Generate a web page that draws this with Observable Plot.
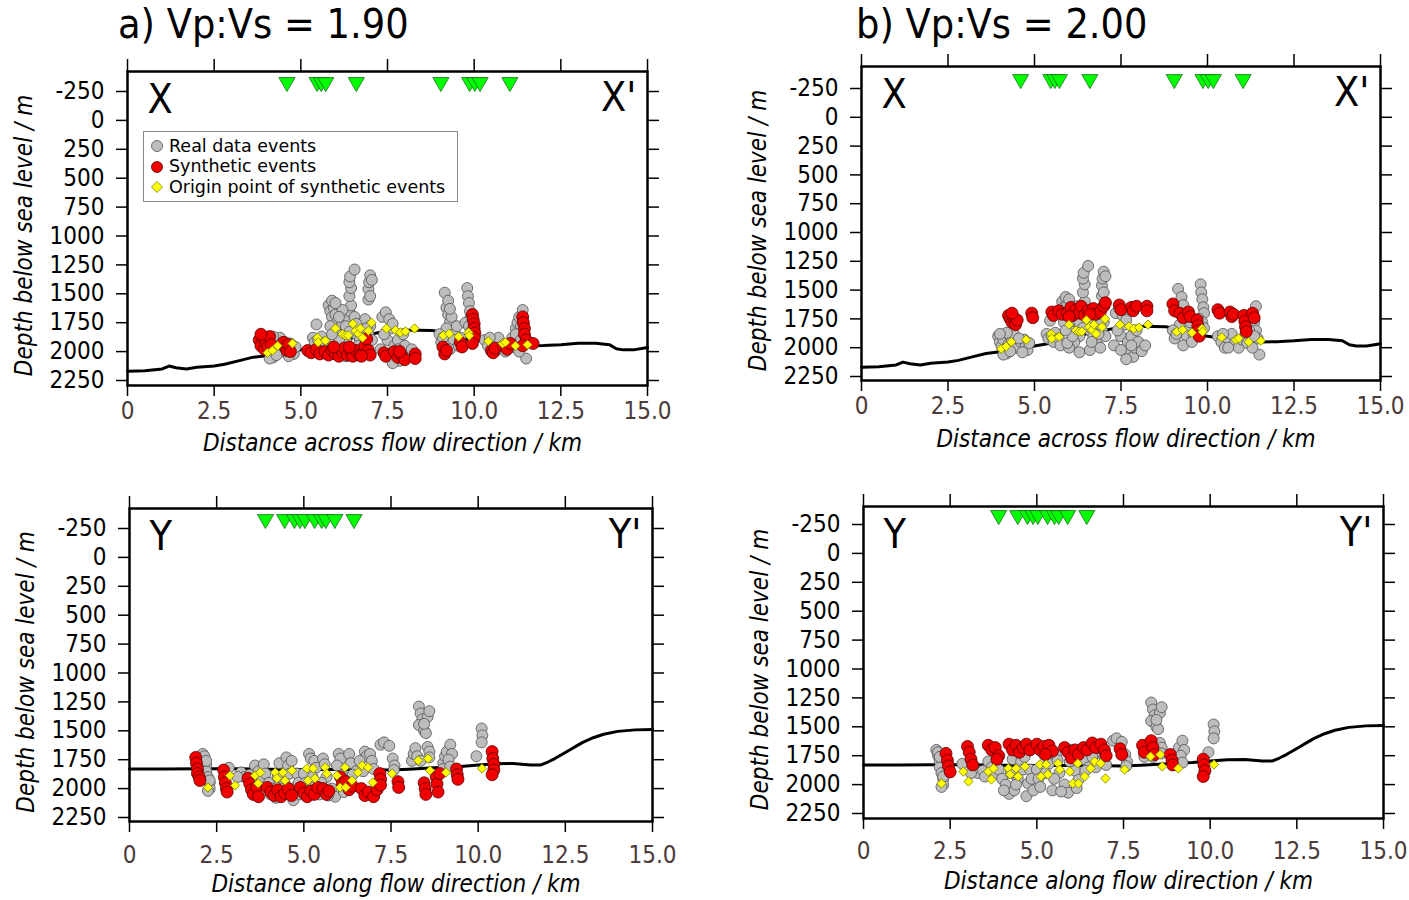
<!DOCTYPE html>
<html><head><meta charset="utf-8">
<script src="https://cdn.jsdelivr.net/npm/d3@7"></script>
<script src="https://cdn.jsdelivr.net/npm/@observablehq/plot@0.6"></script>
<style>
body{margin:0;background:#fff;width:1409px;height:900px;position:relative;overflow:hidden;font-family:"DejaVu Sans Condensed","DejaVu Sans",sans-serif;}
.title{position:absolute;font-size:41px;color:#000;white-space:nowrap;line-height:1;}
.legend{position:absolute;left:143px;top:131px;width:313px;height:69px;border:1px solid #8a8a8a;background:#fff;font-family:"DejaVu Sans",sans-serif;font-size:17.5px;}
.legend .row{position:absolute;left:25px;white-space:nowrap;line-height:17px;height:17px;}
.legend svg{position:absolute;left:5px;}
</style></head><body>
<script>
// ---------- tick labels ----------
const xTicks = [0, 2.5, 5, 7.5, 10, 12.5, 15];
const yTicks = [-250, 0, 250, 500, 750, 1000, 1250, 1500, 1750, 2000, 2250];

// ---------- stations (km) ----------
const stationsAcross = [4.6, 5.47, 5.59, 5.72, 6.6, 9.04, 9.87, 10.02, 10.17, 11.03];
const stationsAlong = [3.9, 4.45, 4.73, 4.89, 5.03, 5.31, 5.51, 5.63, 5.89, 6.44];

// ---------- bed profile [km, depth m] ----------
const bedAcross = [[0,2170],[0.5,2165],[1.0,2150],[1.2,2125],[1.4,2140],[1.7,2150],[2.0,2135],[2.5,2125],[2.8,2110],[3.2,2080],[3.6,2050],[4.0,2035],[4.5,2010],[5.0,1985],[5.5,1960],[6.0,1925],[6.5,1880],[7.0,1850],[7.3,1832],[7.6,1820],[8.0,1815],[8.4,1815],[8.8,1818],[9.0,1830],[9.2,1862],[9.6,1885],[10.0,1900],[10.5,1920],[11.0,1935],[11.5,1950],[12.0,1948],[12.5,1940],[13.0,1928],[13.5,1928],[13.9,1940],[14.1,1975],[14.3,1985],[14.6,1985],[15.0,1965]];
const bedAlong = [[0,1830],[1,1830],[2,1828],[3,1828],[4,1832],[5,1835],[6,1835],[7,1838],[7.5,1840],[8,1832],[8.5,1825],[9,1815],[9.5,1808],[10,1795],[10.5,1785],[11,1782],[11.5,1795],[11.8,1795],[12.0,1770],[12.2,1740],[12.4,1705],[12.6,1670],[12.8,1635],[13.0,1600],[13.3,1560],[13.6,1530],[14.0,1505],[14.5,1492],[15.0,1488]];

// ---------- real data events [km, depth m] ----------
const realAcross = [[3.95,1900],[4.0,1950],[4.05,1990],[4.1,1930],[4.15,2010],[4.2,2050],[4.25,1970],[4.3,1900],[4.35,1940],[4.4,1880],[4.45,1960],[4.5,2000],[4.6,1950],[4.7,1930],[4.75,1990],[4.8,2020],[4.85,1960],[4.2,1870],[4.1,2060],[4.0,1880],[4.3,2030],[4.55,1920],[4.65,2040],
[5.35,1880],[5.4,1920],[5.45,1765],[5.5,1900],[5.55,1950],[5.6,1870],[5.7,1920],[5.75,1980],
[5.8,1600],[5.85,1650],[5.9,1700],[5.95,1620],[6.0,1680],[6.05,1740],[5.85,1780],[6.1,1800],[6.2,1760],[6.25,1850],[6.3,1900],[6.35,1700],[6.4,1650],[6.45,1600],[6.4,1520],[6.45,1450],[6.4,1400],[6.42,1350],[6.55,1290],[6.5,1800],[6.6,1850],[6.7,1900],[6.75,1760],[6.8,1950],[6.85,1720],[6.9,2000],[6.95,1850],[7.0,1780],[7.05,1900],[6.15,1950],[6.0,2000],[6.3,2040],[6.6,2020],[6.95,1460],[6.97,1400],[7.0,1340],[7.05,1380],[6.95,1550],[7.0,1520],[5.95,1960],[6.55,1700],[6.2,1640],
[5.9,1560],[6.0,1580],[6.1,1700],[6.15,1860],[6.3,1780],[6.4,1830],[6.6,1760],[6.65,1950],[6.85,1880],[6.9,1800],[6.1,1900],[5.9,1850],
[7.35,1700],[7.45,1660],[7.55,1720],[7.5,1900],[7.6,1800],[7.7,1950],[7.75,2050],[7.8,1900],[7.85,2080],[7.9,2000],[7.95,1850],[8.0,1950],[8.1,2030],[8.2,1980],[7.4,1850],[7.65,1760],[7.3,1980],[7.5,2020],[7.65,2100],[7.8,1980],
[9.15,1490],[9.2,1620],[9.25,1680],[9.3,1750],[9.2,1800],[9.35,1700],[9.45,1850],[9.5,1780],[9.4,1900],[9.0,1850],[9.05,1920],[9.1,1880],[9.8,1450],[9.82,1520],[9.85,1580],[9.88,1650],[9.9,1700],[9.75,1750],[9.6,1880],[9.3,1980],[9.55,1950],[9.25,1560],[9.3,1630],[9.85,1780],[9.9,1830],
[10.3,1900],[10.4,1950],[10.5,2000],[10.6,1920],[10.7,1880],[10.8,1960],[10.9,2000],[11.0,1930],[11.1,1880],[11.2,1800],[11.25,1750],[11.3,1700],[11.35,1780],[11.4,1850],[11.45,1920],[11.5,2060],[11.15,1960],[11.3,2000],[10.45,1880],[10.6,2000],[11.2,1850],[11.35,1900],[11.4,1640]];

const realAlong = [[2.1,1700],[2.15,1750],[2.2,1800],[2.2,1850],[2.25,1900],[2.3,1950],[2.3,2000],[2.15,1720],[2.25,2020],[2.2,1760],[2.3,1930],
[2.85,1820],[3.2,1860],[3.3,1900],[3.45,1880],[3.6,1800],[3.7,1850],[3.8,1900],[3.85,1790],[3.1,1900],[3.5,1930],[3.9,1870],
[4.0,1950],[4.1,2000],[4.2,2080],[4.3,1780],[4.35,2050],[4.45,1950],[4.5,1730],[4.55,1800],[4.6,1870],[4.65,1760],[4.7,2100],[4.75,1990],[4.9,2050],[4.05,2050],[4.25,1900],[4.4,2000],[4.8,1870],[4.85,1950],
[5.0,1870],[5.05,1950],[5.15,1700],[5.2,1740],[5.3,1760],[5.35,1820],[5.45,2050],[5.55,1740],[5.6,1790],[5.65,1900],[5.8,2000],[5.9,2070],[6.0,1700],[6.05,1740],[6.1,1880],[6.2,1960],[6.3,1700],[6.35,1780],[6.5,1850],[5.1,2020],[5.25,1900],[5.5,1950],[5.7,2060],[5.95,1800],[6.15,2030],[6.4,1880],
[6.75,1680],[6.8,1720],[6.9,1700],[6.95,1760],[7.2,1620],[7.3,1600],[7.45,1630],[7.55,1740],[7.6,1800],[7.58,1840],[6.6,1760],[6.7,1850],[7.0,1830],
[8.1,1760],[8.15,1700],[8.2,1650],[8.3,1290],[8.35,1350],[8.4,1400],[8.3,1450],[8.45,1500],[8.55,1380],[8.6,1330],[8.5,1520],[8.55,1640],[8.6,1680],[8.6,1730],[8.25,1720],[8.35,1760],[8.45,1440],
[9.0,1780],[9.05,1720],[9.1,1680],[9.2,1620],[9.25,1700],[9.0,1830],[9.15,1750],[9.2,1810],
[9.95,1720],[10.1,1480],[10.12,1540],[10.1,1600]];

// ---------- origin points of synthetic events [km, depth m] ----------
const originAcross = [[4.04,2010],[4.18,1990],[4.33,1950],[4.76,1930],[5.48,1880],[5.5,1920],[5.71,1905],[6.0,1800],[6.2,1850],[6.29,1860],[6.37,1860],[6.5,1760],[6.58,1820],[6.66,1845],[6.72,1800],[6.78,1880],[6.95,1820],[7.04,1750],[7.47,1800],[7.73,1815],[7.87,1835],[8.02,1825],[8.28,1800],[9.11,1860],[9.28,1845],[9.55,1870],[9.84,1835],[9.86,1862],[10.41,1910],[10.82,1930],[10.9,1920],[11.19,1950],[11.54,1940]];
const originAlong = [[2.25,1990],[2.88,1887],[3.03,1973],[3.6,1887],[3.69,1955],[3.75,1860],[4.18,1860],[4.23,1912],[4.4,1860],[4.46,1930],[4.66,1843],[5.09,1826],[5.12,1930],[5.27,1826],[5.32,1912],[5.61,1817],[5.66,1870],[5.95,1887],[6.04,1990],[6.18,1817],[6.2,1990],[6.38,1930],[6.55,1860],[6.67,1800],[6.84,1817],[6.98,1947],[7.53,1870],[8.28,1757],[8.56,1740],[8.62,1843],[9.08,1860],[10.11,1826]];

// ---------- synthetic events [km, depth m] ----------
const synthAcross190 = [[3.8,1900],[3.85,1950],[3.9,1880],[3.95,1980],[4.0,1920],[4.05,1960],[4.1,1870],[4.15,1940],[3.85,1850],
[4.5,1920],[4.55,1960],[4.6,1990],[4.65,1940],[4.7,2000],
[5.2,1990],[5.3,2010],[5.45,1980],[5.55,2020],[5.7,2000],[5.8,2030],[5.9,1990],[6.0,2020],[6.1,2040],[6.2,2000],[6.25,1970],[6.35,2030],[6.45,2000],[6.5,2040],[6.6,1990],[6.7,2030],[6.8,2010],[6.85,1950],[6.9,1890],[6.95,1990],[7.0,2030],[6.75,2040],[6.4,1960],[5.95,1960],
[7.4,2010],[7.45,2040],[7.7,2000],[7.8,2050],[7.9,2030],[8.0,2070],[7.85,2000],[8.3,2020],[8.3,2060],
[9.1,1960],[9.15,2020],[9.2,1990],[9.6,1920],[9.65,1960],
[9.95,1680],[9.97,1720],[10.0,1760],[10.0,1800],[10.02,1840],[10.0,1880],[9.95,1930],
[10.5,1990],[10.55,2010],[10.6,1970],
[10.85,1950],[10.95,1980],[11.05,1930],
[11.4,1700],[11.42,1750],[11.45,1800],[11.45,1850],[11.5,1900],[11.4,1950],[11.7,1930]];
const synthAcross200 = [[4.25,1720],[4.3,1750],[4.35,1780],[4.4,1740],[4.45,1800],[4.5,1760],[4.35,1700],
[4.92,1700],[4.95,1740],
[5.5,1690],[5.55,1720],[5.7,1680],[5.8,1710],[5.95,1700],[6.05,1650],[6.1,1720],[6.2,1670],[6.3,1700],[6.35,1640],[6.45,1720],[6.55,1680],[6.7,1660],[6.75,1710],[6.9,1690],[7.0,1640],[7.05,1610],[6.6,1710],[6.0,1730],
[7.45,1630],[7.5,1670],[7.8,1650],[7.85,1680],[7.95,1640],[8.25,1640],[8.25,1680],
[9.0,1620],[9.05,1680],[9.2,1700],[9.3,1740],[9.45,1690],[9.5,1730],[9.7,1760],[9.72,1810],[9.74,1850],[9.76,1900],
[10.3,1670],[10.35,1700],[10.65,1690],[10.7,1730],[10.75,1710],[11.05,1720],[11.08,1770],[11.1,1820],[11.12,1860],[11.3,1700],[11.35,1740]];
const synthAlong190 = [[1.9,1730],[1.92,1780],[1.95,1830],[1.95,1870],[2.0,1900],[2.02,1930],
[2.7,1840],[2.72,1900],[2.75,1950],[2.78,2000],[2.8,2030],
[3.4,1910],[3.45,1960],[3.5,2010],[3.55,2050],[3.65,1990],[3.7,2070],
[3.95,1990],[4.05,2030],[4.15,2060],[4.25,2010],[4.35,2070],[4.45,2040],[4.55,2000],[4.65,2060],
[4.9,1990],[5.0,2040],[5.1,2070],[5.2,2020],[5.3,2050],[5.4,1990],
[5.55,2000],[5.65,2050],[5.72,2020],
[6.05,1900],[6.1,1960],[6.2,1940],[6.3,2010],[6.4,1980],
[6.65,2000],[6.75,2060],[6.85,2030],[7.0,2070],[7.1,2010],
[7.18,1870],[7.2,1920],[7.2,1970],
[7.7,1940],[7.72,1990],
[8.45,1950],[8.48,2000],[8.5,2050],[8.8,1900],[8.82,1960],[8.85,2030],[8.9,1870],
[9.38,1830],[9.4,1880],[9.42,1920],
[10.4,1680],[10.42,1740],[10.45,1790],[10.45,1840],[10.4,1880]];
const synthAlong200 = [[2.38,1730],[2.42,1790],[2.45,1840],[2.5,1890],
[3.0,1670],[3.05,1720],[3.1,1780],[3.15,1830],
[3.6,1660],[3.7,1700],[3.8,1680],[3.9,1750],[3.85,1780],
[4.2,1650],[4.3,1700],[4.4,1660],[4.5,1720],[4.6,1680],[4.7,1650],[4.8,1700],
[5.0,1650],[5.1,1700],[5.2,1670],[5.35,1660],[5.45,1710],[5.25,1740],
[5.8,1680],[5.9,1720],[6.0,1770],[6.1,1700],[6.2,1740],[6.35,1680],[6.45,1700],
[6.6,1640],[6.7,1680],[6.85,1650],[6.95,1700],[7.0,1750],
[7.4,1690],[7.45,1740],
[8.05,1660],[8.1,1720],[8.3,1620],[8.35,1680],[8.4,1740],
[8.85,1740],[8.9,1790],[8.92,1830],
[9.8,1780],[9.82,1830],[9.85,1880],[9.8,1930]];

const titles = ["a) Vp:Vs = 1.90", "b) Vp:Vs = 2.00"];
const xTitles = ["Distance across flow direction / km", "Distance along flow direction / km"];
const yTitle = "Depth below sea level / m";

// ---------- drawing ----------
const FONT = '"DejaVu Sans Condensed","DejaVu Sans",sans-serif';
const FS = 24;
const pts = a => a.map(([x, y]) => ({x, y}));
const xFmt = d => d === 0 ? "0" : d.toFixed(1);

function panel(cfg) {
  const mL = 140, mR = 50, mT = 60, mB = 95;
  const fw = cfg.x15 - cfg.x0, fh = cfg.bottom - cfg.top;
  const mpp = 2500 / (cfg.y2250 - cfg.yNeg);
  const yDom = [-250 - (cfg.yNeg - cfg.top) * mpp, 2250 + (cfg.bottom - cfg.y2250) * mpp];
  const plot = Plot.plot({
    width: fw + mL + mR, height: fh + mT + mB,
    marginLeft: mL, marginRight: mR, marginTop: mT, marginBottom: mB,
    style: {background: "none", fontFamily: FONT, fontSize: FS + "px", overflow: "visible", color: "#000"},
    x: {domain: [0, 15]},
    y: {domain: yDom, reverse: true},
    marks: [
      Plot.line(pts(cfg.bed), {x: "x", y: "y", stroke: "#000", strokeWidth: 3}),
      Plot.dot(pts(cfg.real), {x: "x", y: "y", r: 5.5, fill: "#bdbdbd", stroke: "#505050", strokeWidth: 0.8}),
      Plot.dot(pts(cfg.synth), {x: "x", y: "y", r: 6, fill: "#f00000", stroke: "#5a0000", strokeWidth: 0.8}),
      Plot.dot(pts(cfg.origin), {x: "x", y: "y", r: 4.2, symbol: "diamond2", fill: "#ffff00", stroke: "#7a7a00", strokeWidth: 0.8}),
      Plot.dot(cfg.stations, {x: d => d, y: () => -330, r: 6, symbol: "triangle", rotate: 180, fill: "#00ff00", stroke: "#1d6b1d", strokeWidth: 0.8}),
      Plot.frame({stroke: "#000", strokeWidth: 2.5}),
      Plot.axisY(yTicks, {anchor: "left", tickSize: 11, tickPadding: 12, tickFormat: d => String(d), label: null, fontSize: FS, fill: "#000", stroke: "#000", strokeWidth: 1.5}),
      Plot.axisY(yTicks, {anchor: "right", tickSize: 11, tickFormat: () => "", label: null, stroke: "#000", strokeWidth: 1.5}),
      Plot.axisX(xTicks, {anchor: "bottom", tickSize: 11, tickPadding: cfg.xPad, tickFormat: xFmt, label: null, fontSize: FS, fill: "#4b3b3b", stroke: "#000", strokeWidth: 1.5}),
      Plot.axisX(xTicks, {anchor: "top", tickSize: 13, tickFormat: () => "", label: null, stroke: "#000", strokeWidth: 1.5}),
      Plot.text([cfg.xTitle], {frameAnchor: "bottom", dx: 5, dy: cfg.xTitleDy, fontStyle: "italic", fontSize: FS, fill: "#000"}),
      Plot.text([yTitle], {frameAnchor: "left", rotate: -90, dx: -103, dy: 7, textAnchor: "middle", fontStyle: "italic", fontSize: FS, fill: "#000"}),
      Plot.text([cfg.left], {frameAnchor: "top-left", dx: 20, dy: 12, fontSize: 41, lineAnchor: "top", textAnchor: "start", fill: "#000"}),
      Plot.text([cfg.right], {frameAnchor: "top-right", dx: -11, dy: 10, fontSize: 41, lineAnchor: "top", textAnchor: "end", fill: "#000"})
    ]
  });
  plot.style.position = "absolute";
  plot.style.left = (cfg.x0 - mL) + "px";
  plot.style.top = (cfg.top - mT) + "px";
  document.body.appendChild(plot);
}

panel({x0: 127, x15: 647, yNeg: 91, y2250: 380, top: 71, bottom: 385, xPad: 5, xTitleDy: 65,
  bed: bedAcross, real: realAcross, synth: synthAcross190, origin: originAcross, stations: stationsAcross,
  xTitle: xTitles[0], left: "X", right: "X'"});
panel({x0: 861, x15: 1380, yNeg: 88, y2250: 376, top: 66, bottom: 380, xPad: 5, xTitleDy: 66,
  bed: bedAcross, real: realAcross, synth: synthAcross200, origin: originAcross, stations: stationsAcross,
  xTitle: xTitles[0], left: "X", right: "X'"});
panel({x0: 129, x15: 652, yNeg: 528, y2250: 817, top: 508, bottom: 821, xPad: 13, xTitleDy: 70,
  bed: bedAlong, real: realAlong, synth: synthAlong190, origin: originAlong, stations: stationsAlong,
  xTitle: xTitles[1], left: "Y", right: "Y'"});
panel({x0: 863, x15: 1383, yNeg: 524, y2250: 813, top: 506, bottom: 818, xPad: 12, xTitleDy: 70,
  bed: bedAlong, real: realAlong, synth: synthAlong200, origin: originAlong, stations: stationsAlong,
  xTitle: xTitles[1], left: "Y", right: "Y'"});

// titles
[[titles[0], 118], [titles[1], 856]].forEach(([t, x]) => {
  const d = document.createElement("div");
  d.className = "title"; d.textContent = t;
  d.style.left = x + "px"; d.style.top = "4px";
  document.body.appendChild(d);
});

// legend (panel a)
const legendItems = [
  {label: "Real data events", fill: "#bdbdbd", stroke: "#505050", shape: "circle"},
  {label: "Synthetic events", fill: "#f00000", stroke: "#5a0000", shape: "circle"},
  {label: "Origin point of synthetic events", fill: "#ffff00", stroke: "#7a7a00", shape: "diamond"}
];
const leg = document.createElement("div");
leg.className = "legend";
legendItems.forEach((it, i) => {
  const cy = 14 + i * 20.5;
  const ns = "http://www.w3.org/2000/svg";
  const s = document.createElementNS(ns, "svg");
  s.setAttribute("width", 16); s.setAttribute("height", 16);
  s.style.top = (cy - 8) + "px";
  const shape = it.shape === "circle" ? document.createElementNS(ns, "circle") : document.createElementNS(ns, "path");
  if (it.shape === "circle") { shape.setAttribute("cx", 8); shape.setAttribute("cy", 8); shape.setAttribute("r", 5.5); }
  else shape.setAttribute("d", "M8,2.5L13.5,8L8,13.5L2.5,8Z");
  shape.setAttribute("fill", it.fill); shape.setAttribute("stroke", it.stroke); shape.setAttribute("stroke-width", 0.8);
  s.appendChild(shape);
  leg.appendChild(s);
  const r = document.createElement("div");
  r.className = "row"; r.textContent = it.label;
  r.style.top = (cy - 8.5) + "px";
  leg.appendChild(r);
});
document.body.appendChild(leg);
</script>
</body></html>
